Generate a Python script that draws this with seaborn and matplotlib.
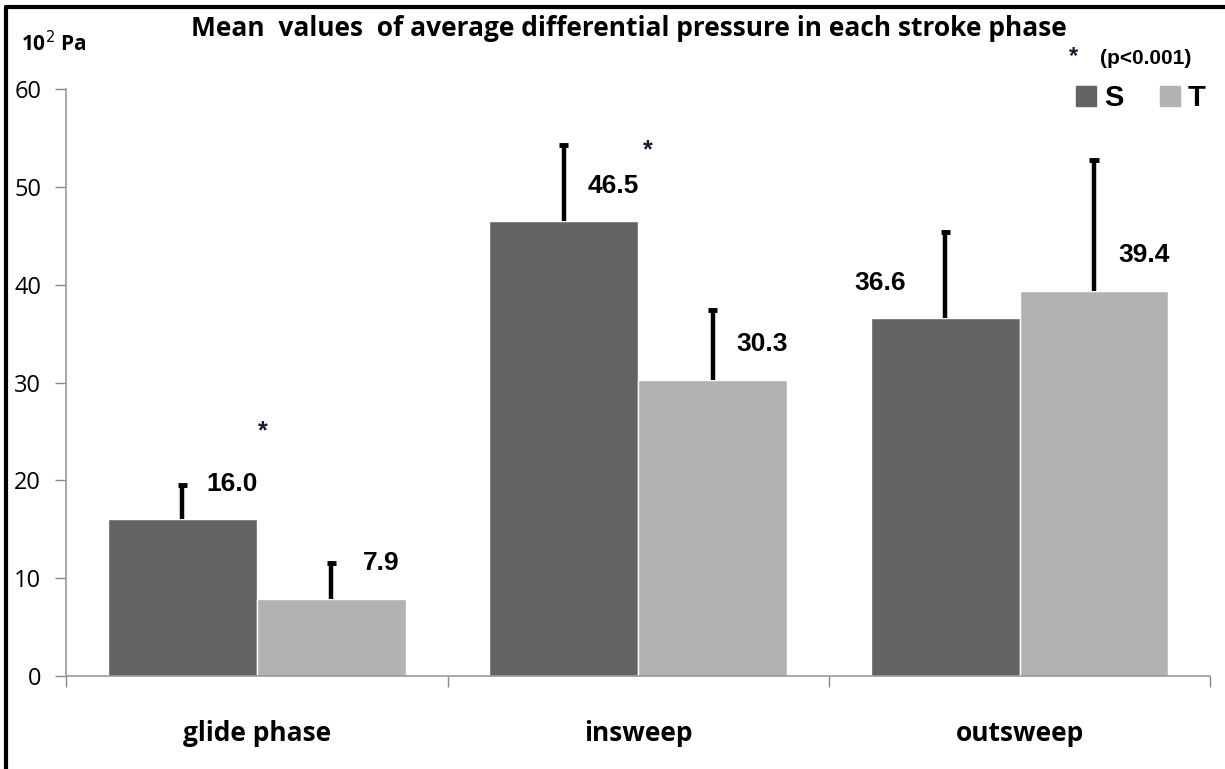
import numpy as np
import pandas as pd
import matplotlib
matplotlib.use('Agg')
import matplotlib.pyplot as plt
from matplotlib.lines import Line2D
import seaborn as sns

# data (units: 10^2 Pa)
phases = ['glide phase', 'insweep', 'outsweep']
groups = ['S', 'T']
s_means = [16.0, 46.5, 36.6]
t_means = [7.9, 30.3, 39.4]
s_err = [3.5, 7.8, 8.8]
t_err = [3.7, 7.1, 13.4]
colors = {'S': '#636363', 'T': '#b2b2b2'}

df = pd.DataFrame({'phase': phases * 2,
                   'group': ['S'] * 3 + ['T'] * 3,
                   'value': s_means + t_means,
                   'err': s_err + t_err})

sns.set_style('white')
plt.rcParams['font.family'] = ['Open Sans', 'DejaVu Sans']
plt.rcParams['text.color'] = 'black'
plt.rcParams['xtick.labelcolor'] = 'black'
plt.rcParams['ytick.labelcolor'] = 'black'
arial = ['Liberation Sans', 'DejaVu Sans']

fig = plt.figure(figsize=(12.25, 7.69), dpi=100)
ax = fig.add_axes([0.054, 0.121, 0.934, 0.763])

sns.barplot(data=df, x='phase', y='value', hue='group', palette=colors,
            width=0.78, errorbar=None, saturation=1, ax=ax, legend=False)

# error bars (upper only) and value labels
for bars, grp in zip(ax.containers, groups):
    sub = df[df.group == grp]
    xs = np.array([b.get_x() + b.get_width() / 2 for b in bars])
    tops = sub.value.values + sub.err.values
    ax.vlines(xs, sub.value, tops, color='black', lw=3.2)
    ax.hlines(tops, xs - 0.012, xs + 0.012, color='black', lw=3.5)
    for x, v, p in zip(xs, sub.value, sub.phase):
        dx = -0.17 if (p == 'outsweep' and grp == 'S') else 0.13
        ax.text(x + dx, v + 3.6, f'{v:.1f}', ha='center', va='center',
                fontsize=19, fontweight='bold', family=arial)

# significance stars
ax.text(0.015, 25.0, '*', ha='center', va='center', fontsize=18, fontweight='bold', color='#1a1a2e', family=arial)
ax.text(1.025, 53.8, '*', ha='center', va='center', fontsize=18, fontweight='bold', color='#1a1a2e', family=arial)

ax.set_ylim(0, 60)
ax.set_xlim(-0.5, 2.5)
ax.set_yticks(np.arange(0, 61, 10))
ax.tick_params(axis='y', length=8, width=1, color='#888888', pad=10, labelsize=17, left=True)
ax.set_xticks([-0.5, 0.5, 1.5, 2.5], minor=True)
ax.tick_params(axis='x', which='major', length=0, pad=32, labelsize=19)
ax.tick_params(axis='x', which='minor', length=8, width=1, color='#888888', bottom=True, direction='out')
for lab in ax.get_xticklabels():
    lab.set_fontweight('bold')
ax.set_xlabel('')
ax.set_ylabel('')
for side in ['top', 'right']:
    ax.spines[side].set_visible(False)
for side in ['left', 'bottom']:
    ax.spines[side].set_color('#999999')
    ax.spines[side].set_linewidth(1.2)

# legend
handles = [Line2D([], [], marker='s', ls='', markersize=15, color=colors[g]) for g in groups]
leg = fig.legend(handles, groups, ncol=2, frameon=False, loc='center left',
                 bbox_to_anchor=(0.863, 0.872), handlelength=1.0, handletextpad=0.1,
                 columnspacing=1.1, borderpad=0,
                 prop={'family': arial, 'weight': 'bold', 'size': 21})

fig.text(0.876, 0.926, '*', ha='center', va='center', fontsize=17, fontweight='bold', color='#1a1a2e', family=arial)
fig.text(0.898, 0.924, '(p<0.001)', ha='left', va='center', fontsize=15, fontweight='bold', family=arial)

fig.text(0.513, 0.963, 'Mean  values  of average differential pressure in each stroke phase',
         ha='center', va='center', fontsize=19, fontweight='bold')
fig.text(0.017, 0.943, '10$^{2}$ Pa', ha='left', va='center', fontsize=15, fontweight='bold')

# frame lines on top and left edge of the figure
fig.add_artist(Line2D([0.005, 0.005], [0.0, 0.991], transform=fig.transFigure, color='black', lw=3))
fig.add_artist(Line2D([0.005, 1.0], [0.991, 0.991], transform=fig.transFigure, color='black', lw=3))

fig.savefig('out.png', dpi=100)
